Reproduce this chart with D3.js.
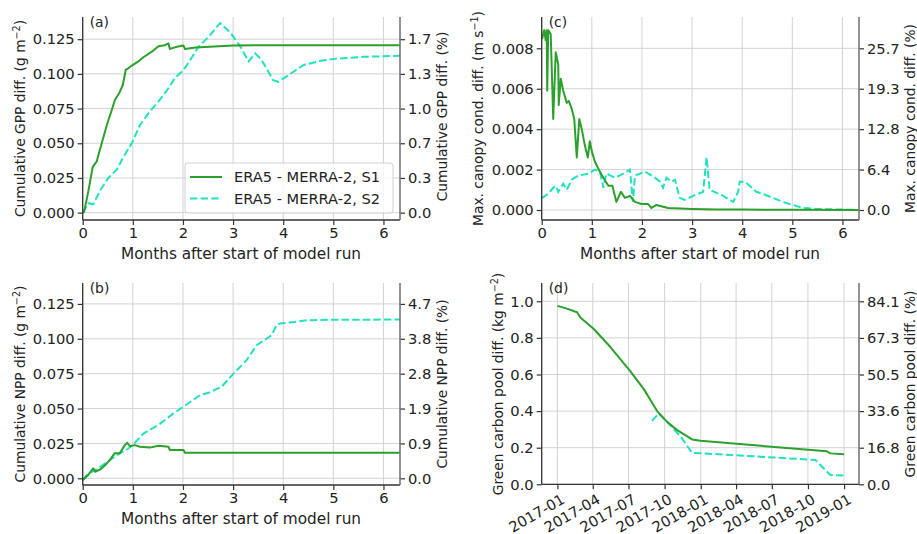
<!DOCTYPE html>
<html>
<head>
<meta charset="utf-8">
<style>
  body { margin: 0; background: #fff; }
  svg { font-family: "DejaVu Sans", sans-serif; }
  .grid line { stroke: #d3d3d3; stroke-width: 1; }
  .tick text { font-size: 14.7px; fill: #222; font-family: "DejaVu Sans", sans-serif; }
  .tick line { stroke: #333; stroke-width: 1.2; }
  .lbl { font-size: 15.3px; fill: #222; }
  .ylbl { font-size: 13.8px; fill: #222; }
  .tag { font-size: 13.9px; fill: #222; }
  .legtxt { font-size: 14.6px; fill: #222; }
  .s1 { fill: none; stroke: #2ca02c; stroke-width: 2; stroke-linejoin: round; }
  .s2 { fill: none; stroke: #1ee3bd; stroke-width: 2; stroke-dasharray: 7.4,3.2; }
</style>
</head>
<body>
<svg id="chart" width="917" height="534"></svg>
<script src="https://d3js.org/d3.v7.min.js"></script>
<script>
// ---- data ----
var monthTicks = [0, 1, 2, 3, 4, 5, 6];

// (a) cumulative GPP difference
var gppS1Months = [0, 0.03, 0.11, 0.20, 0.28, 0.38, 0.48, 0.58, 0.64, 0.74, 0.80, 0.86, 0.91, 0.98, 1.11, 1.21, 1.38, 1.51, 1.64, 1.71, 1.74, 1.88, 2.01, 2.04, 2.25, 3.0, 4.0, 5.0, 6.33];
var gppS1 = [0, 0.0007, 0.015, 0.033, 0.037, 0.050, 0.063, 0.074, 0.081, 0.087, 0.092, 0.103, 0.104, 0.106, 0.109, 0.112, 0.116, 0.120, 0.1207, 0.122, 0.118, 0.1195, 0.1205, 0.118, 0.119, 0.1205, 0.1207, 0.1207, 0.1207];
var gppS2Months = [0, 0.11, 0.21, 0.35, 0.51, 0.68, 0.81, 0.98, 1.14, 1.31, 1.51, 1.68, 1.84, 2.01, 2.18, 2.31, 2.51, 2.74, 2.94, 3.14, 3.31, 3.44, 3.57, 3.80, 3.90, 4.10, 4.40, 4.74, 5.07, 5.60, 6.33];
var gppS2 = [0, 0.0068, 0.006, 0.016, 0.025, 0.031, 0.040, 0.050, 0.063, 0.0716, 0.080, 0.088, 0.097, 0.1027, 0.112, 0.1195, 0.1267, 0.1366, 0.130, 0.120, 0.109, 0.1148, 0.110, 0.0955, 0.0943, 0.099, 0.1063, 0.1094, 0.111, 0.1123, 0.113];
var gppTicks = [0, 0.025, 0.05, 0.075, 0.1, 0.125];
var gppPctLabels = ["0.0", "0.3", "0.7", "1.0", "1.3", "1.7"];

// (b) cumulative NPP difference
var nppS1Months = [0, 0.01, 0.11, 0.21, 0.25, 0.35, 0.45, 0.54, 0.64, 0.74, 0.84, 0.89, 0.94, 1.04, 1.14, 1.34, 1.51, 1.71, 1.74, 2.01, 2.04, 6.33];
var nppS1 = [-0.001, -0.001, 0.0024, 0.0072, 0.0047, 0.0064, 0.0095, 0.013, 0.018, 0.018, 0.0238, 0.0255, 0.023, 0.0238, 0.0226, 0.022, 0.0233, 0.0226, 0.0203, 0.0203, 0.0183, 0.0183];
var nppS2Months = [0, 0.1, 0.3, 0.5, 0.7, 0.9, 1.0, 1.21, 1.54, 1.81, 2.01, 2.34, 2.51, 2.77, 3.01, 3.27, 3.47, 3.77, 3.87, 3.94, 4.24, 4.47, 4.9, 6.33];
var nppS2 = [-0.001, 0.003, 0.007, 0.012, 0.017, 0.021, 0.024, 0.032, 0.039, 0.0465, 0.0513, 0.0596, 0.0613, 0.0656, 0.075, 0.0847, 0.0954, 0.1026, 0.110, 0.111, 0.1121, 0.1133, 0.1136, 0.1138];
var nppTicks = [0, 0.025, 0.05, 0.075, 0.1, 0.125];
var nppPctLabels = ["0.0", "0.9", "1.9", "2.8", "3.8", "4.7"];

// (c) max. canopy conductance difference
var condS1Months = [0, 0.01, 0.05, 0.08, 0.10, 0.11, 0.13, 0.18, 0.23, 0.28, 0.33, 0.34, 0.38, 0.43, 0.50, 0.54, 0.60, 0.65, 0.70, 0.75, 0.80, 0.86, 0.92, 0.96, 1.00, 1.06, 1.16, 1.23, 1.33, 1.41, 1.49, 1.58, 1.66, 1.76, 1.86, 1.99, 2.12, 2.19, 2.29, 2.52, 2.76, 3.0, 3.5, 4.0, 5.0, 6.33];
var condS1 = [0.0085, 0.0085, 0.0089, 0.0084, 0.0089, 0.0059, 0.0089, 0.0087, 0.0045, 0.0078, 0.0072, 0.0052, 0.0065, 0.0059, 0.0053, 0.0054, 0.0050, 0.0045, 0.0026, 0.0045, 0.0040, 0.0032, 0.0026, 0.0034, 0.0029, 0.0024, 0.0019, 0.0016, 0.0012, 0.0012, 0.0004, 0.0009, 0.0006, 0.0007, 0.0004, 0.0003, 0.0003, 0.0001, 0.00025, 0.0001, 0.00007, 0.00005, 0.00003, 0.00002, 0.00001, 0];
var condS2Months = [0, 0.13, 0.23, 0.28, 0.33, 0.43, 0.50, 0.60, 0.73, 0.93, 1.06, 1.16, 1.23, 1.29, 1.46, 1.63, 1.76, 1.82, 1.86, 2.06, 2.26, 2.36, 2.42, 2.49, 2.59, 2.66, 2.75, 2.85, 3.02, 3.22, 3.29, 3.35, 3.62, 3.82, 3.92, 3.95, 4.05, 4.15, 4.28, 4.41, 4.61, 4.81, 5.01, 5.21, 5.48, 6.33];
var condS2 = [0.00058, 0.0008, 0.0011, 0.0012, 0.0009, 0.0013, 0.0010, 0.0015, 0.0017, 0.0018, 0.0020, 0.0019, 0.0011, 0.0018, 0.0016, 0.0018, 0.0020, 0.0004, 0.0017, 0.0019, 0.0016, 0.0014, 0.0011, 0.0016, 0.0014, 0.0015, 0.0006, 0.0005, 0.0007, 0.0009, 0.0026, 0.0010, 0.0007, 0.0004, 0.0009, 0.0014, 0.0014, 0.0012, 0.0009, 0.0008, 0.0006, 0.0004, 0.00025, 0.0001, 0.00005, 0];
var condTicks = [0, 0.002, 0.004, 0.006, 0.008];
var condPctLabels = ["0.0", "6.4", "12.8", "19.3", "25.7"];

// (d) green carbon pool difference
var poolS1Dates = ["2017-01-01", "2017-01-25", "2017-02-20", "2017-03-01", "2017-04-03", "2017-05-16", "2017-06-27", "2017-07-05", "2017-08-09", "2017-09-12", "2017-10-08", "2017-11-02", "2017-12-10", "2017-12-31", "2018-11-18", "2018-11-27", "2019-01-01"];
var poolS1 = [0.975, 0.96, 0.94, 0.91, 0.85, 0.75, 0.64, 0.62, 0.52, 0.40, 0.34, 0.296, 0.245, 0.238, 0.18, 0.169, 0.164];
var poolS2Dates = ["2017-08-30", "2017-09-16", "2017-10-08", "2017-11-11", "2017-12-10", "2017-12-31", "2018-10-20", "2018-11-06", "2018-11-27", "2019-01-01"];
var poolS2 = [0.347, 0.387, 0.34, 0.26, 0.172, 0.17, 0.133, 0.096, 0.051, 0.048];
var poolTicks = [0, 0.2, 0.4, 0.6, 0.8, 1.0];
var poolPctLabels = ["0.0", "16.8", "33.6", "50.5", "67.3", "84.1"];
var poolDateTicks = ["2017-01", "2017-04", "2017-07", "2017-10", "2018-01", "2018-04", "2018-07", "2018-10", "2019-01"];

var svg = d3.select("#chart");
var parseDay = d3.timeParse("%Y-%m-%d");
var parseMonth = d3.timeParse("%Y-%m");

function zipXY(xs, ys) {
  return xs.map(function(d, i) { return [d, ys[i]]; });
}

// axis label with optional superscript part
function addLabel(x, y, main, sup, tail) {
  var t = svg.append("text").attr("class", "ylbl")
      .attr("text-anchor", "middle")
      .attr("transform", "translate(" + x + "," + y + ") rotate(-90)");
  t.append("tspan").text(main);
  if (sup) {
    t.append("tspan").attr("dy", -5.5).style("font-size", "9.6px").text(sup);
    t.append("tspan").attr("dy", 5.5).text(tail);
  }
}

function drawPanel(p) {
  var g = svg.append("g");
  var x = p.x, y = p.y;
  var x0 = x.range()[0], x1 = x.range()[1];
  var yb = y.range()[0], yt = y.range()[1];

  // grid
  var grid = g.append("g").attr("class", "grid");
  grid.selectAll(".gx").data(p.xTicks).enter().append("line")
      .attr("x1", function(d) { return x(d); }).attr("x2", function(d) { return x(d); })
      .attr("y1", yt).attr("y2", yb);
  grid.selectAll(".gy").data(p.yTicks).enter().append("line")
      .attr("x1", x0).attr("x2", x1)
      .attr("y1", function(d) { return y(d); }).attr("y2", function(d) { return y(d); });

  // series
  var line = d3.line().x(function(d) { return x(d[0]); }).y(function(d) { return y(d[1]); });
  g.append("path").datum(p.s2).attr("class", "s2").attr("d", line);
  g.append("path").datum(p.s1).attr("class", "s1").attr("d", line);

  // axes
  var ax = g.append("g").attr("transform", "translate(0," + yb + ")")
      .call(d3.axisBottom(x).tickValues(p.xTicks).tickSize(5).tickPadding(3).tickFormat(p.xFormat));
  ax.select(".domain").remove();
  if (p.rotateX) {
    ax.selectAll(".tick text")
        .attr("text-anchor", "end")
        .attr("dy", null).attr("y", null)
        .attr("transform", "translate(8,18) rotate(-30)");
  }
  var ay = g.append("g").attr("transform", "translate(" + x0 + ",0)")
      .call(d3.axisLeft(y).tickValues(p.yTicks).tickSize(5).tickPadding(3).tickFormat(d3.format(p.yFormat)));
  ay.select(".domain").remove();
  var ar = g.append("g").attr("transform", "translate(" + x1 + ",0)")
      .call(d3.axisRight(y).tickValues(p.yTicks).tickSize(5).tickPadding(3)
        .tickFormat(function(d, i) { return p.pctLabels[i]; }));
  ar.select(".domain").remove();

  // spines
  g.append("line").attr("x1", x0).attr("x2", x0).attr("y1", yt).attr("y2", yb)
      .attr("stroke", "#333").attr("stroke-width", 1.3);
  g.append("line").attr("x1", x0).attr("x2", x1).attr("y1", yb).attr("y2", yb)
      .attr("stroke", "#333").attr("stroke-width", 1.3);
  g.append("line").attr("x1", x1).attr("x2", x1).attr("y1", yt).attr("y2", yb)
      .attr("stroke", "#777").attr("stroke-width", 1.6);

  // panel tag
  g.append("text").attr("class", "tag").attr("x", x0 + 7).attr("y", yt + 10).text(p.tag);
}

// (a)
drawPanel({
  tag: "(a)",
  x: d3.scaleLinear().domain([0, 6.33]).range([82.7, 400]),
  y: d3.scaleLinear().domain([-0.0053, 0.141]).range([220, 17]),
  xTicks: monthTicks, xFormat: d3.format("d"),
  yTicks: gppTicks, yFormat: ".3f", pctLabels: gppPctLabels,
  s1: zipXY(gppS1Months, gppS1), s2: zipXY(gppS2Months, gppS2)
});
// (b)
drawPanel({
  tag: "(b)",
  x: d3.scaleLinear().domain([0, 6.33]).range([82.7, 400]),
  y: d3.scaleLinear().domain([-0.0048, 0.140]).range([485, 283]),
  xTicks: monthTicks, xFormat: d3.format("d"),
  yTicks: nppTicks, yFormat: ".3f", pctLabels: nppPctLabels,
  s1: zipXY(nppS1Months, nppS1), s2: zipXY(nppS2Months, nppS2)
});
// (c)
drawPanel({
  tag: "(c)",
  x: d3.scaleLinear().domain([0, 6.33]).range([541.7, 859]),
  y: d3.scaleLinear().domain([-0.000495, 0.00955]).range([220, 17]),
  xTicks: monthTicks, xFormat: d3.format("d"),
  yTicks: condTicks, yFormat: ".3f", pctLabels: condPctLabels,
  s1: zipXY(condS1Months, condS1), s2: zipXY(condS2Months, condS2)
});
// (d)
drawPanel({
  tag: "(d)",
  x: d3.scaleTime().domain([parseDay("2016-11-22"), parseDay("2019-02-08")]).range([541.7, 859]),
  y: d3.scaleLinear().domain([0, 1.1]).range([484.3, 283]),
  xTicks: poolDateTicks.map(parseMonth), xFormat: d3.timeFormat("%Y-%m"), rotateX: true,
  yTicks: poolTicks, yFormat: ".1f", pctLabels: poolPctLabels,
  s1: zipXY(poolS1Dates.map(parseDay), poolS1), s2: zipXY(poolS2Dates.map(parseDay), poolS2)
});

// x axis titles
svg.append("text").attr("class", "lbl").attr("text-anchor", "middle").attr("x", 241).attr("y", 259).text("Months after start of model run");
svg.append("text").attr("class", "lbl").attr("text-anchor", "middle").attr("x", 700).attr("y", 259).text("Months after start of model run");
svg.append("text").attr("class", "lbl").attr("text-anchor", "middle").attr("x", 241).attr("y", 524).text("Months after start of model run");

// y axis titles
addLabel(25, 118.5, "Cumulative GPP diff. (g m", "\u22122", ")");
addLabel(447, 116.5, "Cumulative GPP diff. (%)");
addLabel(25, 384, "Cumulative NPP diff. (g m", "\u22122", ")");
addLabel(447, 384, "Cumulative NPP diff. (%)");
addLabel(483, 118.5, "Max. canopy cond. diff. (m s", "\u22121", ")");
addLabel(915, 118.5, "Max. canopy cond. diff. (%)");
addLabel(503, 384, "Green carbon pool diff. (kg m", "\u22122", ")");
addLabel(915, 384, "Green carbon pool diff. (%)");

// legend in (a)
var leg = svg.append("g");
leg.append("rect").attr("x", 185).attr("y", 163).attr("width", 208).attr("height", 50)
    .attr("rx", 3).attr("fill", "#fff").attr("fill-opacity", 0.8)
    .attr("stroke", "#d0d0d0").attr("stroke-width", 1);
var legItems = [{cls: "s1", name: "ERA5 - MERRA-2, S1"}, {cls: "s2", name: "ERA5 - MERRA-2, S2"}];
legItems.forEach(function(d, i) {
  var yy = 177 + i * 21.5;
  leg.append("line").attr("class", d.cls).attr("x1", 190).attr("x2", 222).attr("y1", yy).attr("y2", yy);
  leg.append("text").attr("class", "legtxt").attr("x", 234).attr("y", yy + 5).text(d.name);
});
</script>
</body>
</html>
